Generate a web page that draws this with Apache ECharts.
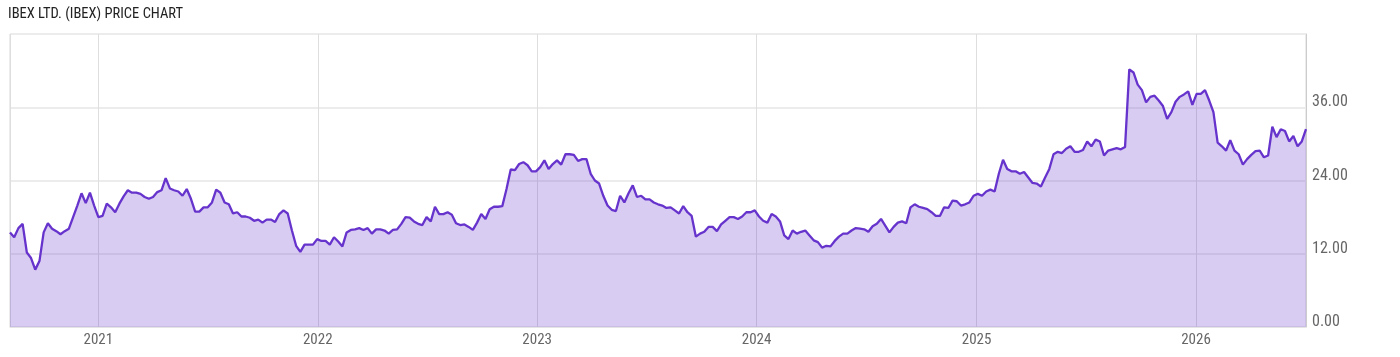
<!DOCTYPE html>
<html>
<head>
<meta charset="utf-8">
<script src="https://cdn.jsdelivr.net/npm/echarts@6/dist/echarts.min.js"></script>
<style>
html,body{margin:0;padding:0;background:#fff;}
#chart{width:1400px;height:357px;}
</style>
</head>
<body>
<div id="chart"></div>
<script>
// Weekly closing prices (USD), first week ending 2020-08-07
const startDate = [2020, 7, 7];
const stepDays = 7;
const prices = [
15.5,14.7,16.2,16.9,12.2,11.3,9.4,10.8,15.5,17.0,16.1,15.7,15.2,15.7,16.1,18.0,19.9,21.9,20.3,22.0,
19.9,18.0,18.2,20.2,19.6,18.8,20.2,21.4,22.4,22.0,22.0,21.8,21.3,21.0,21.3,22.1,22.4,24.4,22.7,22.4,
22.2,21.5,22.6,21.0,18.9,18.9,19.6,19.6,20.4,22.5,22.0,20.4,20.1,18.6,18.8,18.1,18.1,17.9,17.4,17.6,
17.1,17.6,17.6,17.2,18.5,19.1,18.6,15.8,13.3,12.3,13.5,13.5,13.5,14.4,14.1,14.1,13.5,14.7,14.0,13.2,
15.5,15.9,16.0,16.2,15.9,16.2,15.3,16.0,16.0,15.8,15.3,15.9,16.0,16.9,18.0,17.9,17.3,16.9,16.7,18.0,
17.3,19.7,18.5,18.5,18.8,18.4,17.0,16.7,16.8,16.4,15.9,17.1,18.5,17.7,19.3,19.7,19.7,19.8,22.6,25.8,
25.7,26.7,27.0,26.5,25.5,25.5,26.2,27.3,25.9,26.7,27.3,26.6,28.3,28.3,28.2,27.2,27.5,27.5,25.1,24.0,
23.5,21.5,19.9,19.2,19.0,21.5,20.4,21.9,23.2,21.3,21.5,20.9,20.9,20.4,20.1,19.9,19.5,19.6,19.1,18.6,
19.8,18.8,18.2,14.8,15.3,15.6,16.4,16.4,15.7,16.8,17.4,18.0,18.0,17.7,18.1,18.8,18.8,19.1,18.1,17.4,
17.1,18.5,18.1,17.3,15.0,14.4,15.8,15.3,15.6,15.8,15.0,14.2,13.9,13.0,13.3,13.2,14.1,14.8,15.3,15.3,
15.8,16.2,16.1,16.0,15.6,16.5,16.9,17.7,16.6,15.5,16.4,17.1,17.3,17.0,19.6,20.1,19.7,19.5,19.3,18.8,
18.2,18.2,19.6,19.5,20.7,20.6,19.9,20.1,20.4,21.5,21.8,21.5,22.2,22.5,22.2,25.1,27.4,25.9,25.5,25.5,
25.1,25.4,24.5,23.6,23.5,23.0,24.5,25.9,28.3,28.7,28.5,29.2,29.6,28.7,28.7,29.0,30.4,29.6,30.7,30.4,
28.1,28.9,29.1,29.3,29.1,29.5,42.2,41.7,39.7,38.8,36.8,37.7,37.9,37.1,36.2,34.1,35.2,36.9,37.7,38.1,
38.6,36.4,38.2,38.2,38.8,37.1,35.2,30.2,29.6,28.9,30.6,28.9,28.3,26.6,27.5,28.2,28.8,28.9,27.8,28.1,
32.8,31.1,32.4,32.1,30.4,31.3,29.6,30.4,32.4
];
const yTicks = [0, 12, 24, 36];
const titleText = 'IBEX LTD. (IBEX) PRICE CHART';

const dates = prices.map((_, i) => new Date(startDate[0], startDate[1], startDate[2] + stepDays * i).getTime());
const seriesData = prices.map((v, i) => [dates[i], v]);

const FONT = "'Roboto Condensed','DejaVu Sans Condensed','Liberation Sans Narrow',Roboto,sans-serif";
const YEAR = 365.25 * 24 * 3600 * 1000;

const chart = echarts.init(document.getElementById('chart'), null, {renderer: 'canvas'});
chart.setOption({
  animation: false,
  backgroundColor: '#ffffff',
  title: {
    text: titleText, left: 3, top: 2,
    textStyle: {fontFamily: FONT, fontSize: 14.5, fontWeight: 'normal', color: '#222'}
  },
  grid: {
    left: 10, right: 94, top: 34, bottom: 30,
    show: true, borderColor: '#d9d9d9', borderWidth: 1, backgroundColor: 'transparent'
  },
  xAxis: {
    type: 'time',
    min: dates[0], max: dates[dates.length - 1],
    minInterval: YEAR, maxInterval: YEAR,
    axisLine: {show: true, lineStyle: {color: '#e4e4e4', width: 1}},
    axisTick: {show: false},
    splitLine: {show: true, lineStyle: {color: '#dedede', width: 1}},
    axisLabel: {
      fontFamily: FONT, fontSize: 15, color: '#666', margin: 6,
      formatter: v => String(new Date(v).getFullYear())
    }
  },
  yAxis: {
    type: 'value', position: 'right',
    min: 0, max: 48, interval: 12,
    axisLine: {show: true, lineStyle: {color: '#cccccc', width: 1}},
    axisTick: {show: false},
    splitLine: {show: true, lineStyle: {color: '#ececec', width: 2}},
    axisLabel: {
      fontFamily: FONT, fontSize: 16, color: '#666', margin: 6,
      verticalAlign: 'bottom', lineHeight: 16, padding: [0, 0, -3, 0],
      formatter: v => yTicks.indexOf(v) >= 0 ? v.toFixed(2) : ''
    }
  },
  series: [{
    type: 'line',
    data: seriesData,
    showSymbol: false,
    smooth: false,
    lineStyle: {color: '#6633cc', width: 2.3},
    itemStyle: {color: '#6633cc'},
    areaStyle: {color: '#6633cc', opacity: 0.25}
  }]
});
</script>
</body>
</html>
